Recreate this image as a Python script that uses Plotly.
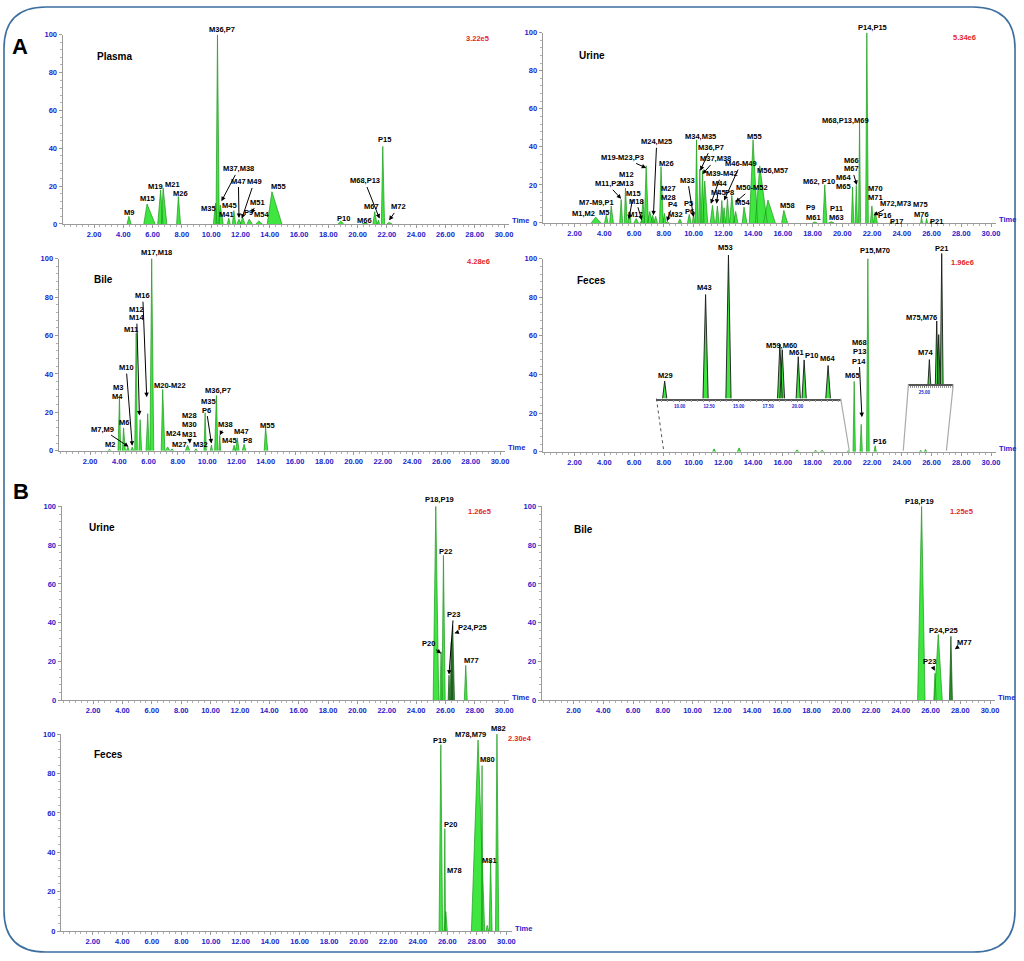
import plotly.graph_objects as go

W, H = 1024, 961
FONT = "Liberation Sans, Arial, sans-serif"

# ---------------- peak tables: retention time (min), relative abundance (%), left/right half width (min)
A_PLASMA_RT = [4.38, 5.62, 6.55, 6.72, 7.76, 10.30, 10.43, 10.62, 11.20, 11.55, 11.90,
               12.15, 12.60, 13.25, 14.15, 18.85, 20.50, 21.17, 21.42, 21.72, 22.15]
A_PLASMA_H = [4.0, 10.5, 18.0, 19.0, 14.5, 11.0, 100.0, 10.0, 3.0, 7.0, 2.5,
              3.5, 2.5, 1.5, 17.0, 1.5, 0.5, 6.5, 2.0, 41.0, 0.8]
A_PLASMA_WL = [0.12, 0.22, 0.20, 0.12, 0.12, 0.15, 0.10, 0.10, 0.10, 0.10, 0.15,
               0.15, 0.15, 0.20, 0.32, 0.20, 0.20, 0.12, 0.08, 0.10, 0.15]
A_PLASMA_WR = [0.15, 0.55, 0.15, 0.25, 0.15, 0.10, 0.12, 0.20, 0.10, 0.12, 0.15,
               0.15, 0.20, 0.25, 0.68, 0.20, 0.20, 0.15, 0.08, 0.12, 0.20]

A_URINE_RT = [3.42, 4.13, 4.46, 5.13, 5.42, 5.69, 6.14, 6.52,
              6.60, 6.81, 7.05, 7.25, 7.45, 7.81, 8.04, 8.25,
              9.08, 9.71, 10.00, 10.20, 10.42, 10.60, 10.75, 11.27,
              11.60, 11.90, 12.05, 12.28, 12.57, 12.83, 13.39, 14.00,
              14.45, 15.00, 16.07, 18.15, 18.82, 19.26, 20.69, 20.94,
              21.16, 21.65, 21.99, 22.21, 23.33, 25.33, 25.67, 25.96]
A_URINE_H = [3.0, 4.0, 8.9, 12.3, 18.3, 6.0, 2.3, 1.5,
             12.0, 30.0, 6.0, 4.0, 3.5, 29.6, 5.0, 0.8,
             2.0, 4.5, 5.0, 43.7, 28.3, 27.5, 22.0, 9.2,
             8.9, 11.8, 8.0, 12.7, 14.4, 6.0, 8.3, 43.7,
             30.0, 12.0, 6.6, 0.5, 20.0, 0.6, 18.8, 19.7,
             52.7, 100.0, 8.9, 5.7, 0.5, 3.1, 2.3, 1.0]
A_URINE_WL = [0.30, 0.12, 0.10, 0.10, 0.08, 0.10, 0.15, 0.10,
              0.12, 0.12, 0.15, 0.12, 0.12, 0.10, 0.10, 0.10,
              0.12, 0.12, 0.08, 0.08, 0.08, 0.10, 0.12, 0.15,
              0.12, 0.10, 0.10, 0.12, 0.15, 0.15, 0.12, 0.25,
              0.30, 0.30, 0.15, 0.15, 0.12, 0.20, 0.08, 0.08,
              0.07, 0.08, 0.10, 0.10, 0.15, 0.06, 0.06, 0.08]
A_URINE_WR = [0.35, 0.12, 0.15, 0.10, 0.12, 0.10, 0.15, 0.10,
              0.10, 0.15, 0.20, 0.12, 0.12, 0.15, 0.10, 0.10,
              0.12, 0.12, 0.08, 0.08, 0.08, 0.10, 0.20, 0.15,
              0.12, 0.10, 0.10, 0.12, 0.20, 0.15, 0.20, 0.30,
              0.50, 0.50, 0.25, 0.15, 0.15, 0.20, 0.08, 0.08,
              0.07, 0.10, 0.10, 0.15, 0.15, 0.06, 0.06, 0.08]

A_BILE_RT = [3.33, 4.01, 4.29, 4.58, 4.88, 5.15, 5.42, 5.94, 6.21, 6.96, 7.30,
             7.60, 8.66, 9.23, 9.86, 10.29, 10.63, 10.86, 11.84, 12.06, 12.52, 13.99]
A_BILE_H = [0.8, 27.6, 11.9, 2.0, 2.0, 61.2, 16.2, 19.3, 100.0, 31.9, 2.0,
            1.0, 2.9, 1.0, 19.8, 3.0, 28.8, 8.0, 2.9, 6.7, 3.4, 12.1]
A_BILE_WL = [0.10, 0.10, 0.08, 0.10, 0.10, 0.10, 0.08, 0.12, 0.12, 0.10, 0.15,
             0.10, 0.15, 0.10, 0.08, 0.08, 0.12, 0.06, 0.10, 0.12, 0.12, 0.10]
A_BILE_WR = [0.10, 0.08, 0.12, 0.10, 0.10, 0.08, 0.10, 0.10, 0.14, 0.15, 0.15,
             0.10, 0.15, 0.10, 0.08, 0.08, 0.10, 0.06, 0.10, 0.12, 0.12, 0.15]

A_FECES_RT = [11.38, 13.06, 16.96, 18.20, 18.64, 20.40, 20.80, 21.27, 21.72, 22.21, 25.27, 25.60]
A_FECES_H = [1.5, 2.0, 1.0, 0.8, 0.8, 0.5, 36.4, 14.2, 100.0, 3.1, 0.8, 1.2]
A_FECES_W = [0.10, 0.12, 0.12, 0.10, 0.10, 0.10, 0.08, 0.08, 0.09, 0.08, 0.08, 0.08]

# zoomed insets of the feces trace
INSET1_RT = [8.73, 12.20, 14.14, 18.50, 18.70, 20.06, 20.56, 22.59]
INSET1_H = [12.2, 72.4, 100.0, 37.9, 34.0, 29.2, 26.9, 23.0]
INSET1_W = [0.18, 0.22, 0.22, 0.20, 0.20, 0.18, 0.18, 0.20]
INSET1_TICKS = [10.0, 12.5, 15.0, 17.5, 20.0]

INSET2_RT = [25.25, 25.62, 25.72, 25.87]
INSET2_H = [18.9, 48.4, 38.0, 100.0]
INSET2_W = [0.07, 0.07, 0.07, 0.07]
INSET2_TICKS = [25.0]

B_URINE_RT = [25.34, 25.70, 25.86, 26.24, 26.40, 26.49, 27.38]
B_URINE_H = [100.0, 25.0, 74.7, 13.0, 30.0, 38.6, 18.0]
B_URINE_WL = [0.18, 0.08, 0.10, 0.06, 0.08, 0.08, 0.10]
B_URINE_WR = [0.20, 0.08, 0.12, 0.06, 0.08, 0.12, 0.10]

B_BILE_RT = [25.40, 26.30, 26.52, 27.37]
B_BILE_H = [100.0, 14.0, 34.0, 33.0]
B_BILE_WL = [0.27, 0.08, 0.27, 0.10]
B_BILE_WR = [0.23, 0.08, 0.27, 0.10]

B_FECES_RT = [25.56, 25.83, 25.90, 28.08, 28.35, 28.70, 28.93, 29.36]
B_FECES_H = [94.6, 52.0, 10.0, 97.0, 84.0, 3.0, 36.0, 100.0]
B_FECES_WL = [0.12, 0.05, 0.12, 0.45, 0.04, 0.10, 0.10, 0.10]
B_FECES_WR = [0.12, 0.05, 0.10, 0.45, 0.04, 0.10, 0.10, 0.12]

X_TICKS = list(range(2, 31, 2))
Y_TICKS = [0, 20, 40, 60, 80, 100]

# ---------------- peak labels: (text, x, y) or (text, x, y, arrow_x, arrow_y)
PLASMA_LABELS = [
    ("M36,P7", 10.73, 103), ("M9", 4.42, 5.9), ("M15", 5.67, 13.2), ("M19", 6.19, 19.9),
    ("M21", 7.37, 20.6), ("M26", 7.89, 16.2), ("M35", 9.82, 8.0),
    ("M37,M38", 11.86, 28.9, 10.7, 12.0), ("M45", 11.22, 9.8), ("M41", 11.04, 5.1),
    ("M47", 11.86, 22.5, 11.9, 3.1), ("M49", 12.93, 22.0, 12.09, 2.8),
    ("M51", 13.15, 11.5, 12.75, 5.5), ("P9", 12.54, 5.9), ("M54", 13.45, 5.1),
    ("M55", 14.58, 19.9), ("P10", 19.05, 2.8), ("M66", 20.48, 1.7), ("M67", 20.93, 9.4),
    ("M68,P13", 20.48, 22.5, 21.5, 2.8), ("P15", 21.84, 44.6), ("M72", 22.79, 8.9, 22.15, 1.9),
]
URINE_A_LABELS = [
    ("P14,P15", 22.03, 102.8), ("M68,P13,M69", 20.2, 53.9), ("M55", 14.11, 45.7),
    ("M56,M57", 15.33, 27.5), ("M34,M35", 10.49, 45.7), ("M36,P7", 11.16, 39.7, 10.45, 27.5),
    ("M37,M38", 11.5, 33.6, 10.6, 25.7), ("M24,M25", 7.52, 42.3, 7.3, 4.0),
    ("M19-M23,P3", 5.25, 34.4, 6.81, 28.9), ("M26", 8.15, 31.0), ("M12", 5.5, 25.7),
    ("M13", 5.5, 20.9), ("M11,P2", 4.2, 20.5, 5.13, 12.7), ("M7-M9,P1", 3.5, 11.0),
    ("M15", 5.96, 15.3, 5.65, 1.9), ("M1,M2", 2.62, 4.9), ("M5", 3.95, 5.7),
    ("M18", 6.14, 11.3, 6.52, 1.4), ("M17", 6.09, 4.5), ("M27", 8.33, 17.9), ("M28", 8.33, 13.6),
    ("P4", 8.59, 9.6, 8.21, 0.9), ("M32", 8.77, 4.5), ("P5", 9.67, 10.4), ("P6", 9.71, 6.1),
    ("M33", 9.6, 22.3, 10.0, 3.1), ("M39-M42", 11.88, 25.7, 11.16, 10.1),
    ("M44", 11.72, 20.5, 11.54, 10.1), ("M45", 11.67, 15.8), ("P8", 12.43, 16.2),
    ("M46-M49", 13.17, 31.0, 12.05, 11.8), ("M50-M52", 13.95, 18.4, 12.83, 11.0),
    ("M54", 13.28, 10.6), ("M58", 16.29, 9.2), ("M62, P10", 18.42, 21.9), ("P9", 17.86, 8.3),
    ("M61", 18.08, 3.1), ("P11", 19.64, 7.5), ("M63", 19.64, 3.1), ("M66", 20.65, 32.7),
    ("M67", 20.65, 28.3, 20.98, 20.0), ("M64", 20.09, 24.0), ("M65", 20.09, 19.1, 20.69, 17.0),
    ("M70", 22.21, 17.9), ("M71", 22.21, 13.2), ("M72,M73", 23.55, 10.1, 22.1, 4.0),
    ("P16", 22.83, 4.0), ("P17", 23.66, 1.0), ("M75", 25.29, 9.6), ("M76", 25.33, 4.5),
    ("P21", 26.34, 1.0),
]
BILE_A_LABELS = [
    ("M17,M18", 6.55, 103.4), ("M16", 5.6, 80.2, 5.87, 27.9), ("M12", 5.19, 73.3),
    ("M14", 5.19, 68.8, 5.37, 18.4), ("M11", 4.81, 62.9), ("M10", 4.47, 42.9, 4.88, 2.6),
    ("M3", 3.9, 33.1), ("M4", 3.9, 28.4), ("M6", 4.29, 14.7), ("M7,M9", 2.83, 11.2, 4.63, 2.1),
    ("M2", 3.38, 3.4), ("M20-M22", 7.48, 34.0), ("M24", 7.69, 9.0), ("M27", 8.1, 3.3),
    ("M28", 8.82, 18.4), ("M30", 8.82, 13.6), ("M31", 8.78, 8.6, 8.82, 3.8), ("M32", 9.57, 3.3),
    ("M35", 10.09, 25.7), ("P6", 9.95, 21.0, 10.29, 3.8), ("M36,P7", 10.77, 31.4),
    ("M38", 11.22, 13.6, 10.86, 8.1), ("M45", 11.5, 5.5), ("M47", 12.36, 9.8), ("P8", 12.74, 5.2),
    ("M55", 14.1, 13.3),
]
FECES_A_LABELS = [
    ("P15,M70", 22.21, 104.3), ("M68", 21.14, 56.8), ("P13", 21.14, 51.8),
    ("P14", 21.14, 46.7, 21.32, 17.9), ("M65", 20.69, 39.3), ("P16", 22.48, 5.1),
]
INSET1_LABELS = [
    ("M29", 8.82, 16.1), ("M43", 12.11, 77.5), ("M53", 13.86, 105), ("M59,M60", 18.68, 36.8),
    ("M61", 19.92, 32.2), ("P10", 21.21, 30.3), ("M64", 22.54, 28.0),
]
INSET2_LABELS = [("M75,M76", 24.87, 50.9), ("M74", 25.07, 24.4), ("P21", 25.87, 103.8)]
URINE_B_LABELS = [
    ("P18,P19", 25.57, 103.4), ("P22", 25.97, 76.8), ("P23", 26.54, 44.0, 26.24, 13.3),
    ("P24,P25", 27.83, 37.7, 26.61, 34.6), ("P20", 24.84, 29.2, 25.7, 24.1), ("M77", 27.74, 20.6),
]
BILE_B_LABELS = [
    ("P18,P19", 25.29, 102.6), ("P24,P25", 26.85, 36.0), ("M77", 28.3, 29.8, 27.63, 26.4),
    ("P23", 25.96, 20.1, 26.29, 15.3),
]
FECES_B_LABELS = [
    ("P19", 25.49, 96.7), ("M78,M79", 27.58, 99.7), ("M82", 29.49, 102.7), ("M80", 28.71, 87.1),
    ("P20", 26.24, 54.2), ("M78", 26.46, 30.8), ("M81", 28.87, 36.1),
]

# ---------------- panel geometry (pixels): x of t=0, px per minute, y of 0 %, y of 100 %
PANELS = [
    dict(x0=65, s=14.7, y0=222, y100=31, name="Plasma", name_xy=(2.04, 88.5),
         scale="3.22e5", scale_xy=(28.2, 98), peaks=(A_PLASMA_RT, A_PLASMA_H, A_PLASMA_WL, A_PLASMA_WR),
         labels=PLASMA_LABELS),
    dict(x0=547, s=14.93, y0=221, y100=29, name="Urine", name_xy=(2.14, 88),
         scale="5.34e6", scale_xy=(28.2, 97.6), peaks=(A_URINE_RT, A_URINE_H, A_URINE_WL, A_URINE_WR),
         labels=URINE_A_LABELS),
    dict(x0=61, s=14.7, y0=451, y100=257, name="Bile", name_xy=(2.1, 89),
         scale="4.28e6", scale_xy=(28.5, 98.6), peaks=(A_BILE_RT, A_BILE_H, A_BILE_WL, A_BILE_WR),
         labels=BILE_A_LABELS),
    dict(x0=547, s=14.93, y0=452, y100=257, name="Feces", name_xy=(2.0, 88.7),
         scale="1.96e6", scale_xy=(28.1, 97.8), peaks=(A_FECES_RT, A_FECES_H, A_FECES_W, A_FECES_W),
         labels=FECES_A_LABELS),
    dict(x0=64, s=14.74, y0=703, y100=507, name="Urine", name_xy=(1.56, 89.3),
         scale="1.26e5", scale_xy=(28.35, 97.3), peaks=(B_URINE_RT, B_URINE_H, B_URINE_WL, B_URINE_WR),
         labels=URINE_B_LABELS, dark=[3, 4, 5]),
    dict(x0=546, s=14.93, y0=703, y100=507, name="Bile", name_xy=(1.88, 87.8),
         scale="1.25e5", scale_xy=(28.08, 97.3), peaks=(B_BILE_RT, B_BILE_H, B_BILE_WL, B_BILE_WR),
         labels=BILE_B_LABELS, dark=[3]),
    dict(x0=63.5, s=14.83, y0=936, y100=737, name="Feces", name_xy=(1.92, 89.4),
         scale="2.30e4", scale_xy=(30.9, 98), peaks=(B_FECES_RT, B_FECES_H, B_FECES_WL, B_FECES_WR),
         labels=FECES_B_LABELS),
]

# inset boxes in pixels: left, right, baseline, top
INSETS = [
    dict(box=(659, 844, 398.3, 253.3), rng=[8.03, 23.66], peaks=(INSET1_RT, INSET1_H, INSET1_W, INSET1_W),
         ticks=INSET1_TICKS, labels=INSET1_LABELS, minor=0.5),
    dict(box=(912, 957, 384, 251.7), rng=[24.2, 26.45], peaks=(INSET2_RT, INSET2_H, INSET2_W, INSET2_W),
         ticks=INSET2_TICKS, labels=INSET2_LABELS, minor=0.1),
]

XR = [-0.15, 30.35]
GREEN, GREEN_LINE = "#3fe63f", "#1c9a1c"
DARK, DARK_LINE = "#2b8f2b", "#124d12"
TICK_BLUE = "#2323cc"
AXIS_GREY = "#9a9a9a"
LABEL_SIZE = 7.5


def px_x(p):
    return p / W


def px_y(p):
    return 1 - p / H


def polys(rt, h, wl, wr, idx):
    xs, ys = [], []
    for k in idx:
        xs += [rt[k] - wl[k], rt[k], rt[k] + wr[k], None]
        ys += [0, h[k], 0, None]
    return xs, ys


fig = go.Figure()
annotations = []
axes = {}


def add_peaks(xr, yr, peaks, dark_idx=(), inset=False):
    rt, h, wl, wr = peaks
    normal = [k for k in range(len(rt)) if k not in dark_idx]
    groups = [(normal, GREEN, "#1a1a1a" if inset else GREEN_LINE), (list(dark_idx), DARK, DARK_LINE)]
    for idx, fc, lc in groups:
        if not idx:
            continue
        xs, ys = polys(rt, h, wl, wr, idx)
        fig.add_trace(go.Scatter(x=xs, y=ys, mode="lines", fill="toself", fillcolor=fc,
                                 line=dict(color=lc, width=0.9 if inset else 0.7), xaxis=xr, yaxis=yr,
                                 hoverinfo="skip", showlegend=False))


def txt(text, xr, yr, x, y, size=LABEL_SIZE, color="black", xanchor="center", **kw):
    # position in axis-domain fractions so labels above the 100 % line stay visible
    a = dict(text=text, xref=xr + " domain", yref=yr + " domain", x=x, y=y, showarrow=False,
             xanchor=xanchor, yanchor="middle",
             font=dict(family=FONT, size=size, color=color, weight="bold"))
    a.update(kw)
    annotations.append(a)


def add_labels(xr, yr, labels, xrng, s, ppu):
    span = xrng[1] - xrng[0]
    for lab in labels:
        if len(lab) == 5:
            annotations.append(dict(
                text=lab[0], xref=xr, yref=yr, x=lab[3], y=lab[4],
                ax=(lab[1] - lab[3]) * s, ay=-(lab[2] - lab[4]) * ppu, axref="pixel", ayref="pixel",
                showarrow=True, arrowhead=2, arrowsize=0.9, arrowwidth=1, arrowcolor="black", standoff=0,
                font=dict(family=FONT, size=LABEL_SIZE, color="black", weight="bold")))
        else:
            txt(lab[0], xr, yr, (lab[1] - xrng[0]) / span, lab[2] / 100)


for i, p in enumerate(PANELS, start=1):
    sfx = "" if i == 1 else str(i)
    xr, yr = "x" + sfx, "y" + sfx
    ppu = (p["y0"] - p["y100"]) / 100
    axes["xaxis" + sfx] = dict(
        domain=[px_x(p["x0"] + XR[0] * p["s"]), px_x(p["x0"] + XR[1] * p["s"])],
        range=XR, anchor=yr, showgrid=False, zeroline=False, showline=True,
        linecolor=AXIS_GREY, linewidth=1, tickmode="array", tickvals=X_TICKS,
        ticktext=[f"{v:.2f}" for v in X_TICKS], ticks="outside", ticklen=3, tickcolor=AXIS_GREY,
        tickfont=dict(family=FONT, size=7.5, color=TICK_BLUE, weight="bold"),
        minor=dict(ticks="outside", ticklen=2, tickcolor="#b0b0b0", tick0=0, dtick=0.4),
        fixedrange=True)
    axes["yaxis" + sfx] = dict(
        domain=[px_y(p["y0"]), px_y(p["y100"])], range=[0, 100], anchor=xr,
        showgrid=False, zeroline=False, showline=True, linecolor=AXIS_GREY, linewidth=1,
        tickmode="array", tickvals=Y_TICKS, ticks="outside", ticklen=3, tickcolor=AXIS_GREY,
        tickfont=dict(family=FONT, size=7.5, color=TICK_BLUE, weight="bold"),
        minor=dict(ticks="outside", ticklen=2, tickcolor="#b0b0b0", tick0=0, dtick=4),
        fixedrange=True)

    add_peaks(xr, yr, p["peaks"], dark_idx=p.get("dark", []))
    add_labels(xr, yr, p["labels"], XR, p["s"], ppu)

    span = XR[1] - XR[0]
    txt(p["name"], xr, yr, (p["name_xy"][0] - XR[0]) / span, p["name_xy"][1] / 100, size=10, xanchor="left")
    txt(p["scale"], xr, yr, (p["scale_xy"][0] - XR[0]) / span, p["scale_xy"][1] / 100, size=7.5,
        color="#e3261f")
    txt("Time", xr, yr, 1.0, 0.0, size=7.5, color=TICK_BLUE, xanchor="left", yshift=3, xshift=1)

# feces insets
for j, ins in enumerate(INSETS, start=8):
    sfx = str(j)
    xr, yr = "x" + sfx, "y" + sfx
    left, right, base, top = ins["box"]
    axes["xaxis" + sfx] = dict(
        domain=[px_x(left), px_x(right)], range=ins["rng"], anchor=yr, showgrid=False,
        zeroline=False, showline=True, linecolor="#555555", linewidth=1.5,
        tickmode="array", tickvals=ins["ticks"], ticktext=[f"{v:.2f}" for v in ins["ticks"]],
        ticks="outside", ticklen=2, tickcolor="#777777",
        tickfont=dict(family=FONT, size=4.5, color=TICK_BLUE, weight="bold"),
        minor=dict(ticks="outside", ticklen=1.5, tickcolor="#999999", dtick=ins["minor"]),
        fixedrange=True)
    axes["yaxis" + sfx] = dict(domain=[px_y(base), px_y(top)], range=[0, 100], anchor=xr,
                               visible=False, fixedrange=True)
    add_peaks(xr, yr, ins["peaks"], inset=True)
    s_in = (right - left) / (ins["rng"][1] - ins["rng"][0])
    add_labels(xr, yr, ins["labels"], ins["rng"], s_in, (base - top) / 100)

# connector lines from the insets down to the main feces axis
shapes = [
    dict(type="line", xref="paper", yref="paper", x0=px_x(659), y0=px_y(398.3), x1=px_x(666.3), y1=px_y(451),
         line=dict(color="#555555", width=1, dash="dot")),
    dict(type="line", xref="paper", yref="paper", x0=px_x(844), y0=px_y(398.3), x1=px_x(852.6), y1=px_y(451),
         line=dict(color="#aaaaaa", width=1.2)),
    dict(type="line", xref="paper", yref="paper", x0=px_x(912), y0=px_y(384), x1=px_x(906.8), y1=px_y(451),
         line=dict(color="#aaaaaa", width=1.2)),
    dict(type="line", xref="paper", yref="paper", x0=px_x(957), y0=px_y(384), x1=px_x(950.1), y1=px_y(451),
         line=dict(color="#aaaaaa", width=1.2)),
]

# rounded outer frame
bx1, by1, bx2, by2, r = 4, 3, 1019, 957, 42


def pt(x, y):
    return f"{px_x(x):.5f},{px_y(y):.5f}"


frame = (f"M {pt(bx1 + r, by1)} L {pt(bx2 - r, by1)} Q {pt(bx2, by1)} {pt(bx2, by1 + r)} "
         f"L {pt(bx2, by2 - r)} Q {pt(bx2, by2)} {pt(bx2 - r, by2)} "
         f"L {pt(bx1 + r, by2)} Q {pt(bx1, by2)} {pt(bx1, by2 - r)} "
         f"L {pt(bx1, by1 + r)} Q {pt(bx1, by1)} {pt(bx1 + r, by1)} Z")
shapes.append(dict(type="path", path=frame, xref="paper", yref="paper",
                   line=dict(color="#3c6e9f", width=1.6)))

for letter, lx, ly in [("A", 20, 43), ("B", 21, 492)]:
    annotations.append(dict(text=letter, x=px_x(lx), y=px_y(ly), xref="paper", yref="paper",
                            showarrow=False, xanchor="center", yanchor="middle",
                            font=dict(family=FONT, size=22, color="black", weight="bold")))

fig.update_layout(
    width=W, height=H, margin=dict(l=0, r=0, t=0, b=0),
    paper_bgcolor="white", plot_bgcolor="rgba(0,0,0,0)",
    showlegend=False, annotations=annotations, shapes=shapes, **axes,
)

# drop the default page margin so the figure sits at the window's top-left corner
fig.write_html("out.html", config={"displayModeBar": False},
               post_script="document.body.style.margin='0';document.body.style.overflow='hidden';")
